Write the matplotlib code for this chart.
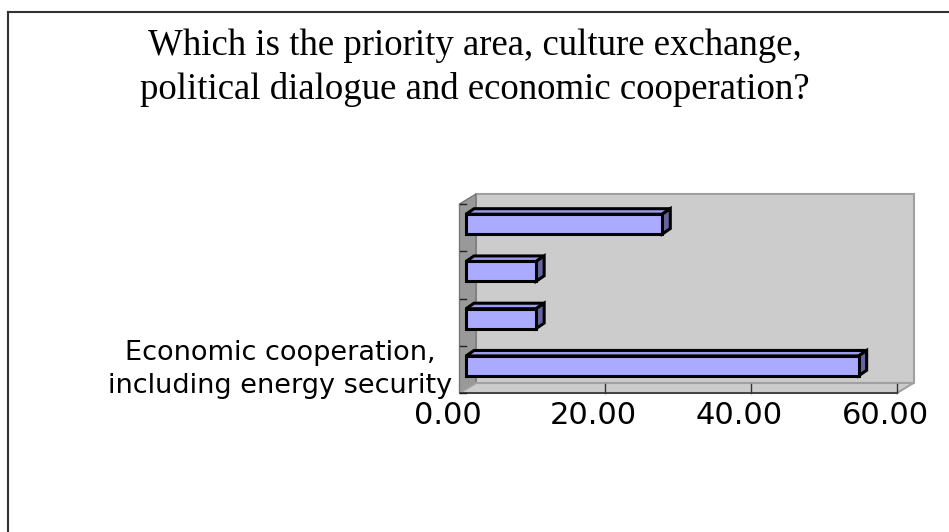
import numpy as np
import matplotlib
matplotlib.use('Agg')
import matplotlib.pyplot as plt
from matplotlib.patches import Polygon

# data (share of answers, %)
categories = ['Economic cooperation,\nincluding energy security', '', '', '']
values = [53.85, 9.62, 9.62, 26.92]
xticks = [0, 20, 40, 60]
xtick_labels = ['0.00', '20.00', '40.00', '60.00']
title = 'Which is the priority area, culture exchange,\npolitical dialogue and economic cooperation?'

W, H = 949, 532
fig = plt.figure(figsize=(W / 100, H / 100), dpi=100)

# front plane of the 3d box, in pixels
x0, x1 = 459.5, 897.0
ytop, ybot = 204.0, 393.0
ax = fig.add_axes([x0 / W, 1 - ybot / H, (x1 - x0) / W, (ybot - ytop) / H])
ax.set_xlim(0, 60)
ax.set_ylim(-0.5, 3.5)
ax.axis('off')

sx = (x1 - x0) / 60.0          # px per unit
sy = (ybot - ytop) / 4.0
# wall depth and bar offsets (pixels -> data units)
dx, dy = 16.5 / sx, 10.0 / sy
bx, by = 6.5 / sx, 3.5 / sy
bdx, bdy = 8.0 / sx, 5.5 / sy
h = 0.42

# back wall
ax.add_patch(Polygon([(dx, -0.5 + dy), (60 + dx, -0.5 + dy), (60 + dx, 3.5 + dy), (dx, 3.5 + dy)],
                     closed=True, fc='#cccccc', ec='#a0a0a0', lw=1.5, clip_on=False, zorder=1))
# left side wall
ax.add_patch(Polygon([(0, -0.5), (0, 3.5), (dx, 3.5 + dy), (dx, -0.5 + dy)],
                     closed=True, fc='#999999', ec='#777777', lw=1.0, clip_on=False, zorder=2))
# floor
ax.add_patch(Polygon([(0, -0.5), (60, -0.5), (60 + dx, -0.5 + dy), (dx, -0.5 + dy)],
                     closed=True, fc='#cccccc', ec='#a0a0a0', lw=1.5, clip_on=False, zorder=2))
ax.plot([0, 60], [-0.5, -0.5], color='#333333', lw=1.2, clip_on=False, zorder=3)
for t in xticks[1:]:
    ax.plot([t, t], [-0.5, -0.5 + dy * 0.9], color='#333333', lw=1.0, clip_on=False, zorder=3)
# category ticks on the side wall
for k in range(5):
    ax.plot([0, 0.9], [k - 0.5, k - 0.5], color='#222222', lw=1.0, clip_on=False, zorder=3)

# bars
ypos = np.arange(len(values))
for y, v in zip(ypos, values):
    yb = y + by - h / 2
    yt = y + by + h / 2
    ax.add_patch(Polygon([(bx, yt), (bx + v, yt), (bx + v + bdx, yt + bdy), (bx + bdx, yt + bdy)],
                         closed=True, fc='#9d9df0', ec='black', lw=2.2, zorder=4, clip_on=False))
    ax.add_patch(Polygon([(bx + v, yb), (bx + v, yt), (bx + v + bdx, yt + bdy), (bx + v + bdx, yb + bdy)],
                         closed=True, fc='#66669e', ec='black', lw=2.2, zorder=4, clip_on=False))
ax.barh(ypos + by, values, left=bx, height=h, color='#aaaaff', edgecolor='black',
        linewidth=2.2, zorder=5, clip_on=False)

# tick labels
for t, lab in zip(xticks, xtick_labels):
    ax.text(t - 12 / sx, -0.5 - 22 / sy, lab, ha='center', va='center',
            fontsize=22, family='DejaVu Sans', clip_on=False)
for y, lab in zip(ypos, categories):
    if lab:
        ax.text(-7 / sx, y, lab, ha='right', va='center', multialignment='center',
                fontsize=19.5, family='DejaVu Sans', linespacing=1.33, clip_on=False)

fig.text(475 / W, 1 - 68 / H, title, ha='center', va='center', multialignment='center',
         fontsize=26.5, family='Liberation Serif', linespacing=1.33)

# outer frame (top and left edge)
fig.add_artist(plt.Line2D([7.5 / W, 1], [1 - 11.5 / H, 1 - 11.5 / H], color='#333333', lw=1.5))
fig.add_artist(plt.Line2D([7.5 / W, 7.5 / W], [0, 1 - 11.5 / H], color='#333333', lw=1.5))

fig.savefig('out.png', dpi=100)
